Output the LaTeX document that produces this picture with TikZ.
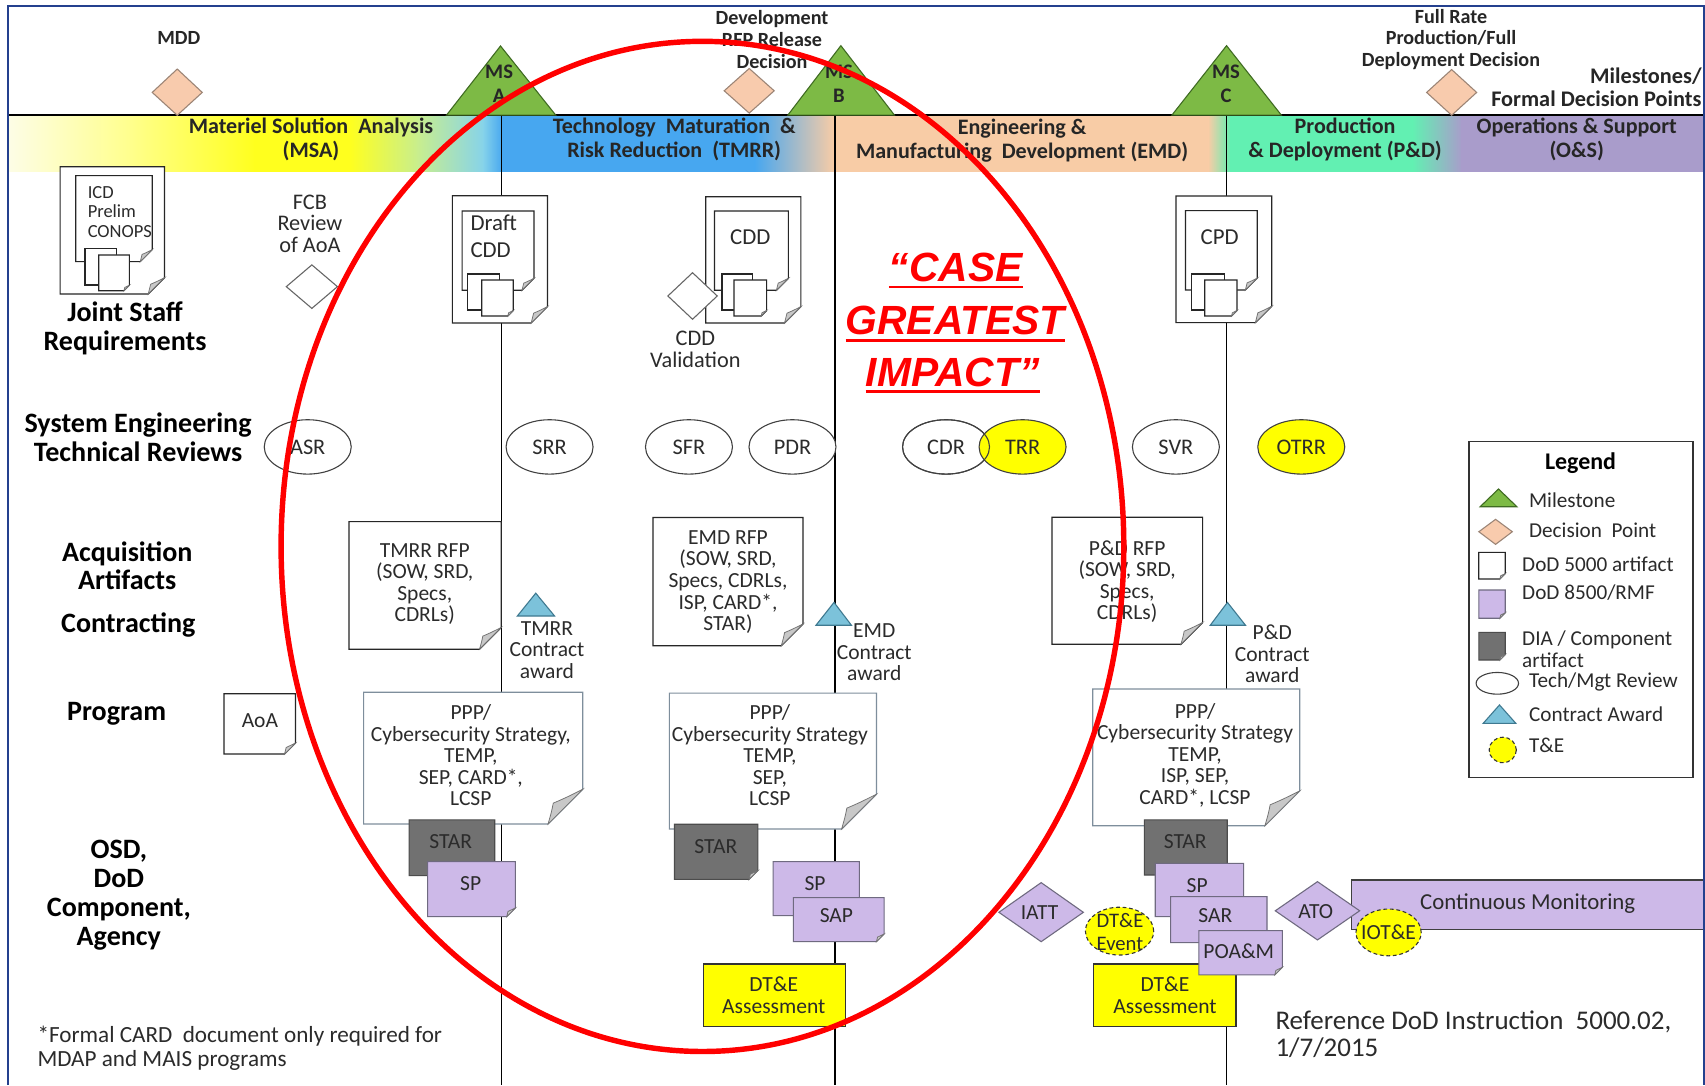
\documentclass[tikz,border=0pt]{standalone}
\usepackage{fontspec}
\setmainfont{Carlito}
\newfontfamily\calloutfont{Liberation Sans}
\usetikzlibrary{shapes.geometric}

\definecolor{frameblue}{HTML}{24408E}
\definecolor{msgreen}{HTML}{7DBA45}
\definecolor{msedge}{HTML}{3F6B22}
\definecolor{decfill}{HTML}{F8CBAD}
\definecolor{decedge}{HTML}{9C8576}
\definecolor{lav}{HTML}{CDB9E8}
\definecolor{lavedge}{HTML}{6F6A80}
\definecolor{stargray}{HTML}{717171}
\definecolor{cablue}{HTML}{7CC2DA}
\definecolor{caedge}{HTML}{3F7990}
\definecolor{tyellow}{HTML}{FFFF00}
\definecolor{txt}{HTML}{2B2B2B}
\definecolor{pppedge}{HTML}{7E8E9C}
\definecolor{curlgray}{HTML}{C8C8C8}
\definecolor{phasetxt}{HTML}{262626}
\definecolor{redmark}{HTML}{FF0000}
% phase band colours
\definecolor{bandw}{HTML}{FDFDE6}
\definecolor{bandly}{HTML}{FFFF8C}
\definecolor{bandy}{HTML}{FFFF1E}
\definecolor{bandyg}{HTML}{C8EE8E}
\definecolor{bandcy}{HTML}{86D3EA}
\definecolor{bandb}{HTML}{47A7F0}
\definecolor{bandp}{HTML}{F8CCA6}
\definecolor{bandm}{HTML}{62F0B2}
\definecolor{bandv}{HTML}{A99CCB}

% rectangle with a folded bottom-right corner: style, x1, y1, x2, y2, fold size
\newcommand\foldbox[6]{%
  \filldraw[#1] (#2,#3) -- (#4,#3) -- (#4,#5-#6) -- (#4-#6,#5) -- (#2,#5) -- cycle;
  \filldraw[curl] (#4,#5-#6) .. controls (#4-0.5*#6,#5-0.75*#6) .. (#4-0.85*#6,#5-0.6*#6)
     .. controls (#4-0.9*#6,#5-0.35*#6) .. (#4-#6,#5) -- cycle;
}

\begin{document}
\begin{tikzpicture}[x=1pt,y=-1pt,
  every node/.style={inner sep=0pt, text=txt},
  body/.style={font=\fontsize{19.8}{19.8}\selectfont, align=center},
  small/.style={font=\fontsize{17}{17.8}\selectfont, align=left},
  big/.style={font=\fontsize{21}{24}\selectfont, align=left},
  rowlbl/.style={font=\fontsize{25.8}{26.2}\selectfont\bfseries, align=center, text=black},
  phaselbl/.style={font=\fontsize{20.3}{22}\selectfont\bfseries, align=center, text=phasetxt},
  declbl/.style={font=\fontsize{18.5}{20}\selectfont\bfseries, align=center, text=phasetxt},
  mslbl/.style={font=\fontsize{19}{22}\selectfont\bfseries, align=center, text=phasetxt},
  leglbl/.style={font=\fontsize{19.5}{20.6}\selectfont, anchor=west, align=left},
  review/.style={ellipse, draw=black!75, fill=white, line width=1pt,
    minimum width=80pt, minimum height=50pt, font=\fontsize{20.5}{20}\selectfont},
  milestone/.style={draw=msedge, fill=msgreen, line width=1pt},
  decision/.style={draw=decedge, fill=decfill, line width=1pt},
  plaindec/.style={draw=black!60, fill=white, line width=1pt},
  docbox/.style={draw=black!85, fill=white, line width=1.1pt},
  pppbox/.style={draw=pppedge, fill=white, line width=1.1pt},
  lavbox/.style={draw=lavedge, fill=lav, line width=1pt},
  starbox/.style={draw=black!70, fill=stargray, line width=1pt},
  yelbox/.style={draw=black!80, fill=tyellow, line width=1pt},
  award/.style={draw=caedge, fill=cablue, line width=1pt},
  tande/.style={draw=black!80, fill=tyellow, dash pattern=on 3.5pt off 2.5pt, line width=1pt},
  curl/.style={draw=black!55, fill=curlgray, line width=0.7pt},
  vline/.style={draw=black, line width=1.3pt},
  casetxt/.style={font=\calloutfont\bfseries\itshape\fontsize{37.5}{40}\selectfont, text=redmark, anchor=base}
]
\useasboundingbox (0,0) rectangle (1568,998);
\fill[white] (0,0) rectangle (1568,998);

% ---------- phase band ----------
\shade[left color=bandw, right color=bandly] (7.7,105.8) rectangle (121,157.8);
\shade[left color=bandly, right color=bandy] (120,105.8) rectangle (235,157.8);
\fill[bandy] (234,105.8) rectangle (322,157.8);
\shade[left color=bandy, right color=bandyg] (321,105.8) rectangle (385,157.8);
\shade[left color=bandyg, right color=bandcy] (384,105.8) rectangle (445,157.8);
\shade[left color=bandcy, right color=bandb] (444,105.8) rectangle (462,157.8);
\fill[bandb] (461,105.8) rectangle (695,157.8);
\shade[left color=bandb, right color=bandp] (694,105.8) rectangle (767,157.8);
\fill[bandp] (766,105.8) rectangle (1112,157.8);
\shade[left color=bandp, right color=bandm] (1111,105.8) rectangle (1132,157.8);
\fill[bandm] (1131,105.8) rectangle (1300,157.8);
\shade[left color=bandm, right color=bandv] (1299,105.8) rectangle (1345,157.8);
\fill[bandv] (1344,105.8) rectangle (1566.8,157.8);
\draw[line width=1.3pt] (7.7,105.8) -- (1566.8,105.8);

\node[phaselbl] (msa) at (286,128.5) {Materiel Solution\ \ Analysis\\(MSA)};
\node[phaselbl] (tmrr) at (620,128) {Technology\ \ Maturation\ \ \&\\Risk Reduction\ \ (TMRR)};
\node[phaselbl] (emd) at (940,129) {Engineering \&\\Manufacturing\ \ Development (EMD)};
\node[phaselbl] (pd) at (1237,128) {Production\\\& Deployment (P\&D)};
\node[phaselbl] (os) at (1450,128) {Operations \& Support\\(O\&S)};

% ---------- milestone lines ----------
\coordinate (lAt) at (461,105.8);  \coordinate (lAb) at (461,998);
\coordinate (lBt) at (768,105.8);  \coordinate (lBb) at (768,998);
\coordinate (lCt) at (1128,105.8); \coordinate (lCb) at (1128,998);
\draw[vline] (lAt) -- (lAb);
\draw[vline] (lBt) -- (lBb);
\draw[vline] (lCt) -- (lCb);

% ---------- milestones and decision points ----------
\filldraw[milestone] (410.7,105.8) -- (460.3,42.3) -- (511,105.8) -- cycle;
\node[mslbl] (msA) at (459,77) {MS\\A};
\filldraw[milestone] (724.6,105.8) -- (773.3,42) -- (822.5,105.8) -- cycle;
\node[mslbl] (msB) at (771.5,77) {MS\\B};
\filldraw[milestone] (1077.8,105.8) -- (1128,42) -- (1178.3,105.8) -- cycle;
\node[mslbl] (msC) at (1127.5,77) {MS\\C};

\filldraw[decision] (163,63.5) -- (186,85) -- (163,106) -- (140,85) -- cycle;
\node[declbl] (mdd) at (164.4,35.3) {MDD};
\filldraw[decision] (689,63) -- (712,83.5) -- (689,104) -- (666,83.5) -- cycle;
\node[declbl] (devrfp) at (710,36.3) {Development\\RFP Release\\Decision};
\filldraw[decision] (1335,64) -- (1358,85) -- (1335,106) -- (1312,85) -- cycle;
\node[declbl] (frp) at (1334.4,36.3) {Full Rate\\Production/Full\\Deployment Decision};
\node[font=\fontsize{20.5}{20.4}\selectfont\bfseries, text=phasetxt, align=right, anchor=east] (mfdp) at (1565,80.2) {Milestones/\\Formal Decision Points};

% ---------- row labels ----------
\node[rowlbl] (jsr) at (115,302) {Joint Staff\\Requirements};
\node[rowlbl] (setr) at (127,402) {System Engineering\\Technical Reviews};
\node[rowlbl] (acq) at (117,520.3) {Acquisition\\Artifacts};
\node[rowlbl] (con) at (118,574.8) {Contracting};
\node[rowlbl] (prog) at (107.3,656) {Program};
\node[rowlbl, font=\fontsize{25.8}{26.6}\selectfont\bfseries] (osd) at (109.3,823) {OSD,\\DoD\\Component,\\Agency};

% ---------- requirements documents ----------
\foldbox{docbox}{55.3}{153.3}{151.3}{270.4}{15}
\foldbox{docbox}{69.7}{161.5}{140}{240.6}{11}
\filldraw[docbox] (78.2,228.4) rectangle (107.3,262.1);
\foldbox{docbox}{90.8}{234.5}{119}{267.3}{5}
\node[small, anchor=west] (icd) at (80.5,194.7) {ICD\\Prelim\\CONOPS};

\node[body, font=\fontsize{20.5}{20}\selectfont] (fcb) at (285,205.8) {FCB\\Review\\of AoA};
\filldraw[plaindec] (286.8,243.6) -- (310.3,263.6) -- (286.8,283.6) -- (263.3,263.6) -- cycle;

\foldbox{docbox}{416}{180}{503.5}{297}{15}
\foldbox{docbox}{425}{194}{491}{267}{11}
\filldraw[docbox] (430,252) rectangle (459,285);
\foldbox{docbox}{443}{257.5}{472}{290.6}{5}
\node[big, anchor=west] (dcdd) at (432.5,217.3) {Draft\\CDD};

\foldbox{docbox}{649}{181}{736.5}{297}{15}
\foldbox{docbox}{657}{194}{725}{267}{11}
\filldraw[docbox] (664,252) rectangle (692,285);
\foldbox{docbox}{675}{257.5}{705}{290.6}{5}
\node[big] (cdd) at (690,218) {CDD};
\filldraw[plaindec] (636.9,250.8) -- (659.6,272.2) -- (636.9,293.6) -- (614.2,272.2) -- cycle;
\node[body, font=\fontsize{20.5}{20}\selectfont] (cddv) at (639.5,321) {CDD\\Validation};

\foldbox{docbox}{1081.5}{180.2}{1169.5}{296.7}{15}
\foldbox{docbox}{1090.3}{193.7}{1156.3}{266.7}{11}
\filldraw[docbox] (1095.7,252) rectangle (1125.8,285);
\foldbox{docbox}{1108}{257.5}{1137.6}{290.6}{5}
\node[big] (cpd) at (1121.6,218.2) {CPD};

% ---------- technical reviews ----------
\node[review] (asr) at (283,411) {ASR};
\node[review] (srr) at (505.4,411) {SRR};
\node[review] (sfr) at (633.6,411) {SFR};
\node[review] (pdr) at (728.8,411) {PDR};
\node[review] (cdr) at (870,411) {CDR};
\node[review, fill=tyellow] (trr) at (940.4,411) {TRR};
\node[review, fill=none] (cdrrim) at (870,411) {};
\node[review] (svr) at (1081.4,411) {SVR};
\node[review, fill=tyellow] (otrr) at (1196.7,411) {OTRR};

% ---------- acquisition artifacts and contracting ----------
\foldbox{docbox}{321}{479.7}{461}{597}{20}
\node[body] (tmrrrfp) at (390.6,537.3) {TMRR RFP\\(SOW, SRD,\\Specs,\\CDRLs)};
\foldbox{docbox}{600.5}{476}{738.5}{593.8}{20}
\node[body] (emdrfp) at (669.5,535.3) {EMD RFP\\(SOW, SRD,\\Specs, CDRLs,\\ISP, CARD*,\\STAR)};
\foldbox{docbox}{967.5}{475.6}{1106}{592.5}{20}
\node[body] (pdrfp) at (1036.6,534.9) {P\&D RFP\\(SOW, SRD,\\Specs,\\CDRLs)};

\filldraw[award] (475.8,566.5) -- (492.7,545.5) -- (510,566.5) -- cycle;
\node[body] (tmrrca) at (503,597.5) {TMRR\\Contract\\award};
\filldraw[award] (750.4,575) -- (767,554) -- (783,575) -- cycle;
\node[body] (emdca) at (804,600) {EMD\\Contract\\award};
\filldraw[award] (1113,575) -- (1128.8,554) -- (1145.4,575) -- cycle;
\node[body] (pdca) at (1170,601.3) {P\&D\\Contract\\award};

% ---------- program documents ----------
\foldbox{docbox}{206}{638}{271.7}{693.4}{10}
\node[body] (aoa) at (239,663) {AoA};
\foldbox{pppbox}{334.4}{636.6}{536}{757.8}{32}
\node[body] (ppp1) at (433,694.5) {PPP/\\Cybersecurity Strategy,\\TEMP,\\SEP, CARD*,\\LCSP};
\foldbox{pppbox}{615.6}{637.4}{806}{762.4}{32}
\node[body] (ppp2) at (708,694.5) {PPP/\\Cybersecurity Strategy\\TEMP,\\SEP,\\LCSP};
\foldbox{pppbox}{1005}{633.6}{1195.3}{759.3}{32}
\node[body] (ppp3) at (1099,694.5) {PPP/\\Cybersecurity Strategy\\TEMP,\\ISP, SEP,\\CARD*, LCSP};

% ---------- OSD / DoD component / agency ----------
\foldbox{starbox}{376.3}{754}{455}{805.3}{8}
\node[body] (star1) at (414.4,774) {STAR};
\foldbox{lavbox}{393.3}{792.4}{474}{843}{8}
\node[body] (sp1) at (432.9,813) {SP};

\foldbox{starbox}{620.3}{758}{696.9}{808.7}{8}
\node[body] (star2) at (658.3,778.6) {STAR};
\foldbox{lavbox}{711}{792.4}{790.3}{842}{8}
\node[body] (sp2) at (749.6,813) {SP};
\foldbox{lavbox}{729.6}{825.5}{813}{866}{7}
\node[body] (sap) at (769.2,842) {SAP};
\filldraw[yelbox] (646.7,886.5) rectangle (777.6,944);
\node[body, font=\fontsize{19.8}{20.8}\selectfont] (dte1) at (711.6,915.4) {DT\&E\\Assessment};

\filldraw[lavbox] (957.5,811.7) -- (996.3,839) -- (957.5,866) -- (918.6,839) -- cycle;
\node[body] (iatt) at (956,839) {IATT};
\filldraw[tande] (1029.6,856.3) ellipse [x radius=31.4pt, y radius=22pt];
\node[body, font=\fontsize{19}{21.5}\selectfont] (dtev) at (1030,857) {DT\&E\\Event};

\filldraw[yelbox] (1005.8,886.5) rectangle (1136.7,944.2);
\node[body, font=\fontsize{19.8}{20.8}\selectfont] (dte2) at (1071.4,915.4) {DT\&E\\Assessment};
\foldbox{starbox}{1052.4}{754}{1128.6}{804.7}{8}
\node[body] (star3) at (1090,774) {STAR};
\foldbox{lavbox}{1062.4}{794}{1143.7}{843}{8}
\node[body] (sp3) at (1101,814) {SP};
\foldbox{lavbox}{1076.5}{824.6}{1165.2}{866.9}{7}
\node[body] (sar) at (1117.6,842) {SAR};
\foldbox{lavbox}{1102.6}{855.9}{1179.3}{896.6}{7}
\node[body] (poam) at (1139.2,875) {POA\&M};

\filldraw[lavbox, draw=black!75] (1243,809.3) rectangle (1566.8,854.6);
\node[body, font=\fontsize{21}{20}\selectfont] (cm) at (1405,831.4) {Continuous Monitoring};
\filldraw[lavbox] (1211.6,810.8) -- (1250.4,837.6) -- (1211.6,864.4) -- (1172.8,837.6) -- cycle;
\node[body] (ato) at (1210,838) {ATO};
\filldraw[tande] (1277,857.5) ellipse [x radius=30pt, y radius=21.5pt];
\node[body] (iote) at (1277,857.5) {IOT\&E};

% ---------- notes ----------
\node[font=\fontsize{21.3}{22}\selectfont, align=left, anchor=west] (note) at (34.3,964.3) {*Formal CARD\ \ document only required for\\MDAP and MAIS programs};
\node[font=\fontsize{24.8}{25}\selectfont, align=left, anchor=west] (ref) at (1172.8,951.5) {Reference DoD Instruction\ \ 5000.02,\\1/7/2015};

% ---------- legend ----------
\draw[black!80, line width=1.2pt, fill=white] (1351,406.2) rectangle (1557,714.8);
\node[font=\fontsize{22}{24}\selectfont\bfseries, text=black] (legend) at (1453.5,426) {Legend};
\filldraw[milestone] (1361.2,466) -- (1378.1,449.7) -- (1395,466) -- cycle;
\node[leglbl] (lgms) at (1406,459.8) {Milestone};
\filldraw[decision] (1375.4,477.6) -- (1390.8,489) -- (1375.4,500.6) -- (1360,489) -- cycle;
\node[leglbl] (lgdp) at (1406,487.4) {Decision\ \ Point};
\foldbox{docbox}{1360}{508}{1384.3}{532.5}{5}
\node[leglbl] (lgd5) at (1399.7,519) {DoD 5000 artifact};
\foldbox{lavbox}{1360}{542.6}{1384.3}{568.6}{5}
\node[leglbl] (lgd85) at (1399.7,545) {DoD 8500/RMF};
\foldbox{starbox}{1360}{581.5}{1384.3}{607}{5}
\node[leglbl] (lgdia) at (1399.7,597.3) {DIA / Component\\artifact};
\filldraw[draw=black!75, fill=white, line width=1pt] (1377,628.4) ellipse [x radius=19.5pt, y radius=10pt];
\node[leglbl] (lgrev) at (1406,626.9) {Tech/Mgt Review};
\filldraw[award] (1364,665.2) -- (1379,648.3) -- (1394,665.2) -- cycle;
\node[leglbl] (lgca) at (1406,657) {Contract Award};
\filldraw[tande] (1382,689.7) ellipse [x radius=12.5pt, y radius=11.7pt];
\node[leglbl] (lgte) at (1406,685.7) {T\&E};

% ---------- frame ----------
\draw[frameblue, line width=2pt] (7.7,998) -- (7.7,5.5) -- (1566.8,5.5) -- (1566.8,998);

% ---------- red callout ----------
\draw[redmark, line width=5pt] (646,502.5) ellipse [x radius=387.5pt, y radius=464.5pt];
\node[casetxt] (case1) at (879,259) {“CASE};
\node[casetxt] (case2) at (878.5,308) {GREATEST};
\node[casetxt] (case3) at (876,355) {IMPACT”};
\draw[redmark, line width=2.4pt] ([yshift=-5pt]case1.base west) -- ([yshift=-5pt]case1.base east);
\draw[redmark, line width=2.4pt] ([yshift=-5pt]case2.base west) -- ([yshift=-5pt]case2.base east);
\draw[redmark, line width=2.4pt] ([yshift=-5pt]case3.base west) -- ([yshift=-5pt]case3.base east);
\end{tikzpicture}
\end{document}
